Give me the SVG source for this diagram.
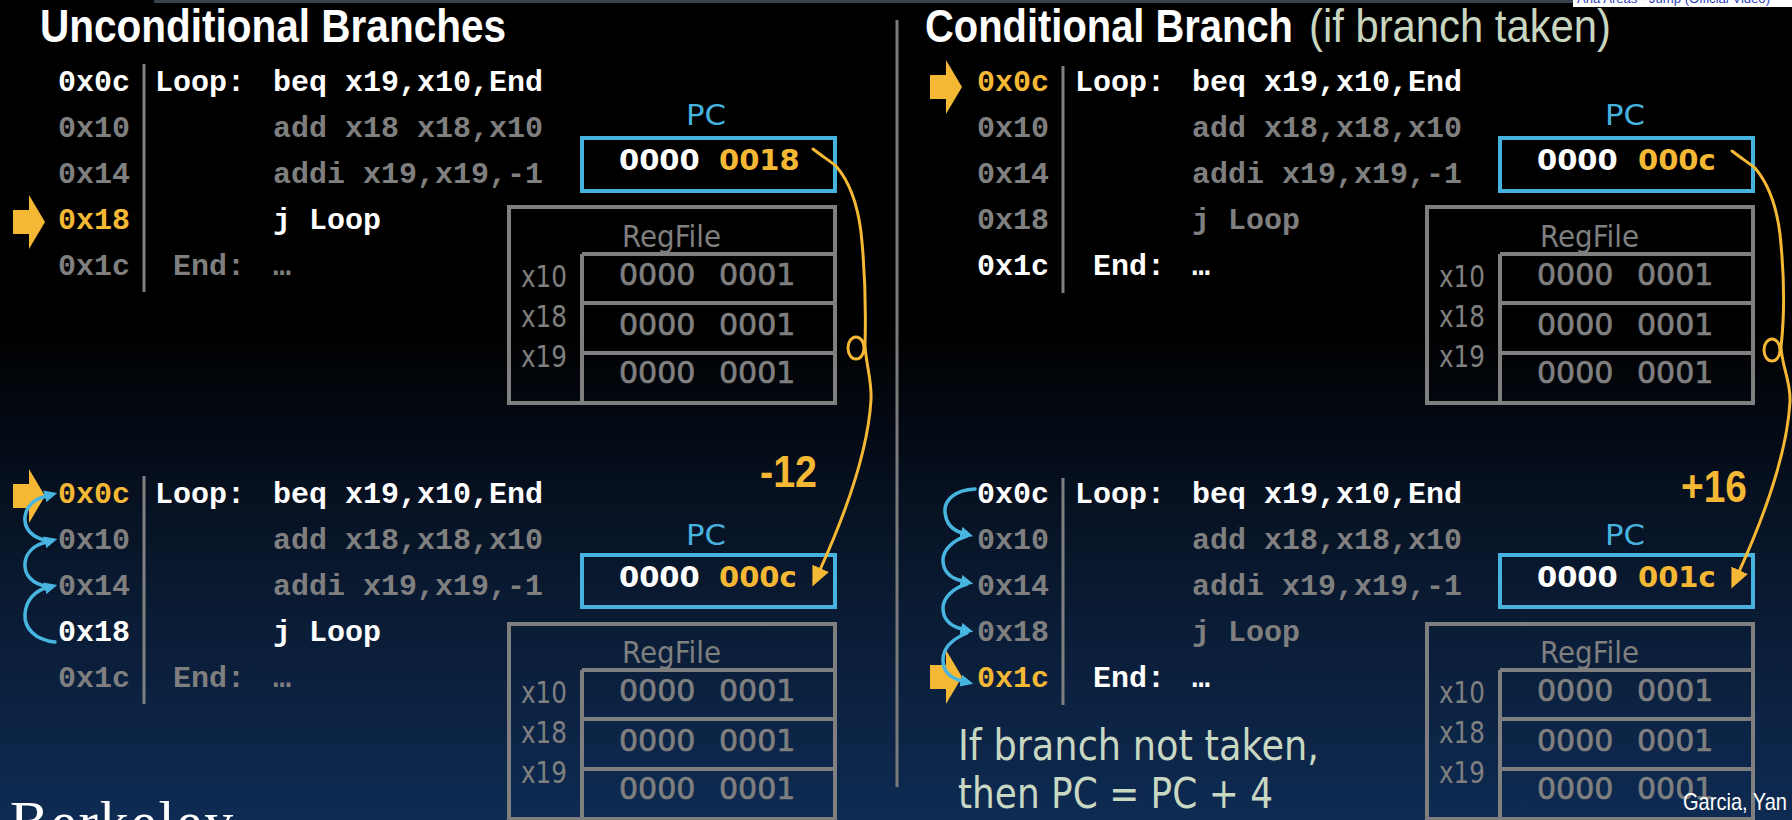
<svg xmlns="http://www.w3.org/2000/svg" width="1792" height="820" viewBox="0 0 1792 820">
<defs>
<linearGradient id="bg" x1="0" y1="0" x2="0" y2="820" gradientUnits="userSpaceOnUse">
<stop offset="0" stop-color="#000000"/>
<stop offset="0.4" stop-color="#000000"/>
<stop offset="0.56" stop-color="#050d1a"/>
<stop offset="0.7" stop-color="#09182e"/>
<stop offset="1" stop-color="#0e2b53"/>
</linearGradient>
<marker id="ah-y" viewBox="0 0 10 10" refX="2" refY="5" markerWidth="20" markerHeight="18" markerUnits="userSpaceOnUse" orient="auto" preserveAspectRatio="none"><path d="M0,0 L10,5 L0,10 z" fill="#f5b835"/></marker>
<marker id="ah-b" viewBox="0 0 10 10" refX="1" refY="5" markerWidth="13" markerHeight="12" markerUnits="userSpaceOnUse" orient="auto" preserveAspectRatio="none"><path d="M0,0 L10,5 L0,10 z" fill="#48b5e0"/></marker>
<polygon id="blk" points="-32,-12 -16,-12 -16,-27 0,0 -16,27 -16,12 -32,12"/>
<style>
.code{font-family:'Liberation Mono','DejaVu Sans Mono',monospace;font-size:30px;font-weight:bold}
.w{fill:#ffffff}.g{fill:#7f7f7f}.o{fill:#f5b835}
.sans{font-family:'DejaVu Sans','Noto Sans',sans-serif}
.nar{font-family:'Liberation Sans Narrow','Liberation Sans',Arial,sans-serif}
.bar{stroke:#808080;stroke-width:3}
.pcbox{fill:none;stroke:#45b3de;stroke-width:4}
.rf{fill:none;stroke:#7f7f7f;stroke-width:4}
.pcl{fill:#45b3de;font-size:28px}
.pcv{font-size:29px;font-weight:bold}
.val{font-size:30px;stroke:#7f7f7f;stroke-width:0.7}
.lbl{font-size:31px}
.yc{fill:none;stroke:#f5b835;stroke-width:3;stroke-linecap:round;stroke-linejoin:round}
.bc{fill:none;stroke:#48b5e0;stroke-width:3.5;stroke-linecap:round}
.blk{fill:#f5b835}
.note{fill:#c8d8c2;font-size:42px}
</style>
</defs>

<g id="background">
<rect x="0" y="0" width="1792" height="820" fill="url(#bg)"/>
<rect x="154" y="0" width="1419" height="3" fill="#3a4250"/>
<rect x="1573" y="0" width="219" height="7" fill="#ffffff"/>
<text x="1577" y="3" font-family="'Liberation Sans',Arial,sans-serif" font-size="12" fill="#2a3fbf" textLength="193" lengthAdjust="spacingAndGlyphs">Ana Areas - Jump (Official Video)</text>
<line x1="897" y1="20" x2="897" y2="787" stroke="#7a7a7a" stroke-width="3"/>
</g>

<g id="titles">
<text class="nar w" x="40" y="42" font-size="46" font-weight="bold" textLength="466" lengthAdjust="spacingAndGlyphs">Unconditional Branches</text>
<text class="nar w" x="925" y="42" font-size="46" font-weight="bold" textLength="368" lengthAdjust="spacingAndGlyphs">Conditional Branch</text>
<text class="nar" x="1309" y="42" font-size="46" fill="#c8d6c0" textLength="302" lengthAdjust="spacingAndGlyphs">(if branch taken)</text>
</g>

<!-- LEFT TOP CODE -->
<g id="code-left-top">
<line class="bar" x1="144" y1="64" x2="144" y2="292"/>
<use href="#blk" class="blk" x="45" y="222"/>
<text class="code w" x="58" y="91">0x0c</text>
<text class="code g" x="58" y="137">0x10</text>
<text class="code g" x="58" y="183">0x14</text>
<text class="code o" x="58" y="229">0x18</text>
<text class="code g" x="58" y="275">0x1c</text>
<text class="code w" x="155" y="91">Loop:</text>
<text class="code g" x="173" y="275">End:</text>
<text class="code w" x="273" y="91">beq x19,x10,End</text>
<text class="code g" x="273" y="137">add x18 x18,x10</text>
<text class="code g" x="273" y="183">addi x19,x19,-1</text>
<text class="code w" x="273" y="229">j Loop</text>
<text class="code g" x="273" y="275">…</text>
</g>

<!-- LEFT BOTTOM CODE -->
<g id="code-left-bottom">
<line class="bar" x1="144" y1="476" x2="144" y2="704"/>
<use href="#blk" class="blk" x="45" y="496"/>
<text class="code o" x="58" y="503">0x0c</text>
<text class="code g" x="58" y="549">0x10</text>
<text class="code g" x="58" y="595">0x14</text>
<text class="code w" x="58" y="641">0x18</text>
<text class="code g" x="58" y="687">0x1c</text>
<text class="code w" x="155" y="503">Loop:</text>
<text class="code g" x="173" y="687">End:</text>
<text class="code w" x="273" y="503">beq x19,x10,End</text>
<text class="code g" x="273" y="549">add x18,x18,x10</text>
<text class="code g" x="273" y="595">addi x19,x19,-1</text>
<text class="code w" x="273" y="641">j Loop</text>
<text class="code g" x="273" y="687">…</text>
</g>

<!-- RIGHT TOP CODE -->
<g id="code-right-top">
<line class="bar" x1="1063" y1="66" x2="1063" y2="293"/>
<use href="#blk" class="blk" x="962" y="87"/>
<text class="code o" x="977" y="91">0x0c</text>
<text class="code g" x="977" y="137">0x10</text>
<text class="code g" x="977" y="183">0x14</text>
<text class="code g" x="977" y="229">0x18</text>
<text class="code w" x="977" y="275">0x1c</text>
<text class="code w" x="1075" y="91">Loop:</text>
<text class="code w" x="1093" y="275">End:</text>
<text class="code w" x="1192" y="91">beq x19,x10,End</text>
<text class="code g" x="1192" y="137">add x18,x18,x10</text>
<text class="code g" x="1192" y="183">addi x19,x19,-1</text>
<text class="code g" x="1192" y="229">j Loop</text>
<text class="code w" x="1192" y="275">…</text>
</g>

<!-- RIGHT BOTTOM CODE -->
<g id="code-right-bottom">
<line class="bar" x1="1063" y1="478" x2="1063" y2="705"/>
<use href="#blk" class="blk" x="962" y="677"/>
<text class="code w" x="977" y="503">0x0c</text>
<text class="code g" x="977" y="549">0x10</text>
<text class="code g" x="977" y="595">0x14</text>
<text class="code g" x="977" y="641">0x18</text>
<text class="code o" x="977" y="687">0x1c</text>
<text class="code w" x="1075" y="503">Loop:</text>
<text class="code w" x="1093" y="687">End:</text>
<text class="code w" x="1192" y="503">beq x19,x10,End</text>
<text class="code g" x="1192" y="549">add x18,x18,x10</text>
<text class="code g" x="1192" y="595">addi x19,x19,-1</text>
<text class="code g" x="1192" y="641">j Loop</text>
<text class="code w" x="1192" y="687">…</text>
</g>

<!-- PC boxes -->
<g id="pc-left-top">
<text class="sans pcl" x="686" y="125" textLength="40" lengthAdjust="spacingAndGlyphs">PC</text>
<rect class="pcbox" x="582" y="138" width="253" height="53"/>
<text class="sans pcv" y="170"><tspan class="w" x="619">0000</tspan> <tspan class="o" x="719">0018</tspan></text>
</g>
<g id="pc-left-bottom">
<text class="sans pcl" x="686" y="545" textLength="40" lengthAdjust="spacingAndGlyphs">PC</text>
<rect class="pcbox" x="582" y="555" width="253" height="52"/>
<text class="sans pcv" y="587"><tspan class="w" x="619">0000</tspan> <tspan class="o" x="719">000c</tspan></text>
</g>
<g id="pc-right-top">
<text class="sans pcl" x="1605" y="125" textLength="40" lengthAdjust="spacingAndGlyphs">PC</text>
<rect class="pcbox" x="1500" y="138" width="253" height="53"/>
<text class="sans pcv" y="170"><tspan class="w" x="1537">0000</tspan> <tspan class="o" x="1638">000c</tspan></text>
</g>
<g id="pc-right-bottom">
<text class="sans pcl" x="1605" y="545" textLength="40" lengthAdjust="spacingAndGlyphs">PC</text>
<rect class="pcbox" x="1500" y="555" width="253" height="52"/>
<text class="sans pcv" y="587"><tspan class="w" x="1537">0000</tspan> <tspan class="o" x="1638">001c</tspan></text>
</g>

<!-- RegFiles -->
<g id="regfile-left-top">
<rect class="rf" x="509" y="207" width="326" height="196"/>
<line class="rf" x1="582" y1="254" x2="835" y2="254"/>
<line class="rf" x1="582" y1="254" x2="582" y2="403"/>
<line class="rf" x1="582" y1="303" x2="835" y2="303"/>
<line class="rf" x1="582" y1="353" x2="835" y2="353"/>
<text class="sans g" x="622" y="247" font-size="30" textLength="99" lengthAdjust="spacingAndGlyphs">RegFile</text>
<text class="sans g lbl" x="521" y="287" textLength="46" lengthAdjust="spacingAndGlyphs">x10</text>
<text class="sans g lbl" x="521" y="327" textLength="46" lengthAdjust="spacingAndGlyphs">x18</text>
<text class="sans g lbl" x="521" y="367" textLength="46" lengthAdjust="spacingAndGlyphs">x19</text>
<text class="sans g val" y="285"><tspan x="619">0000</tspan> <tspan x="719">0001</tspan></text>
<text class="sans g val" y="335"><tspan x="619">0000</tspan> <tspan x="719">0001</tspan></text>
<text class="sans g val" y="383"><tspan x="619">0000</tspan> <tspan x="719">0001</tspan></text>
</g>
<g id="regfile-left-bottom">
<rect class="rf" x="509" y="624" width="326" height="195"/>
<line class="rf" x1="582" y1="670" x2="835" y2="670"/>
<line class="rf" x1="582" y1="670" x2="582" y2="819"/>
<line class="rf" x1="582" y1="719" x2="835" y2="719"/>
<line class="rf" x1="582" y1="769" x2="835" y2="769"/>
<text class="sans g" x="622" y="663" font-size="30" textLength="99" lengthAdjust="spacingAndGlyphs">RegFile</text>
<text class="sans g lbl" x="521" y="703" textLength="46" lengthAdjust="spacingAndGlyphs">x10</text>
<text class="sans g lbl" x="521" y="743" textLength="46" lengthAdjust="spacingAndGlyphs">x18</text>
<text class="sans g lbl" x="521" y="783" textLength="46" lengthAdjust="spacingAndGlyphs">x19</text>
<text class="sans g val" y="701"><tspan x="619">0000</tspan> <tspan x="719">0001</tspan></text>
<text class="sans g val" y="751"><tspan x="619">0000</tspan> <tspan x="719">0001</tspan></text>
<text class="sans g val" y="799"><tspan x="619">0000</tspan> <tspan x="719">0001</tspan></text>
</g>
<g id="regfile-right-top">
<rect class="rf" x="1427" y="207" width="326" height="196"/>
<line class="rf" x1="1500" y1="254" x2="1753" y2="254"/>
<line class="rf" x1="1500" y1="254" x2="1500" y2="403"/>
<line class="rf" x1="1500" y1="303" x2="1753" y2="303"/>
<line class="rf" x1="1500" y1="353" x2="1753" y2="353"/>
<text class="sans g" x="1540" y="247" font-size="30" textLength="99" lengthAdjust="spacingAndGlyphs">RegFile</text>
<text class="sans g lbl" x="1439" y="287" textLength="46" lengthAdjust="spacingAndGlyphs">x10</text>
<text class="sans g lbl" x="1439" y="327" textLength="46" lengthAdjust="spacingAndGlyphs">x18</text>
<text class="sans g lbl" x="1439" y="367" textLength="46" lengthAdjust="spacingAndGlyphs">x19</text>
<text class="sans g val" y="285"><tspan x="1537">0000</tspan> <tspan x="1637">0001</tspan></text>
<text class="sans g val" y="335"><tspan x="1537">0000</tspan> <tspan x="1637">0001</tspan></text>
<text class="sans g val" y="383"><tspan x="1537">0000</tspan> <tspan x="1637">0001</tspan></text>
</g>
<g id="regfile-right-bottom">
<rect class="rf" x="1427" y="624" width="326" height="195"/>
<line class="rf" x1="1500" y1="670" x2="1753" y2="670"/>
<line class="rf" x1="1500" y1="670" x2="1500" y2="819"/>
<line class="rf" x1="1500" y1="719" x2="1753" y2="719"/>
<line class="rf" x1="1500" y1="769" x2="1753" y2="769"/>
<text class="sans g" x="1540" y="663" font-size="30" textLength="99" lengthAdjust="spacingAndGlyphs">RegFile</text>
<text class="sans g lbl" x="1439" y="703" textLength="46" lengthAdjust="spacingAndGlyphs">x10</text>
<text class="sans g lbl" x="1439" y="743" textLength="46" lengthAdjust="spacingAndGlyphs">x18</text>
<text class="sans g lbl" x="1439" y="783" textLength="46" lengthAdjust="spacingAndGlyphs">x19</text>
<text class="sans g val" y="701"><tspan x="1537">0000</tspan> <tspan x="1637">0001</tspan></text>
<text class="sans g val" y="751"><tspan x="1537">0000</tspan> <tspan x="1637">0001</tspan></text>
<text class="sans g val" y="799"><tspan x="1537">0000</tspan> <tspan x="1637">0001</tspan></text>
</g>

<!-- Connectors -->
<g id="connectors">
<path class="yc" marker-end="url(#ah-y)" d="M 864,348 a 8,11 0 1 0 -16,0 a 8,11 0 1 0 16,0 M 813,149 C 822,156 830,161 836,166 C 848,180 857,200 861,232 C 865,270 866,310 865,345 C 866,365 872,380 871,400 C 868,450 845,515 819,572"/>
<path class="yc" marker-end="url(#ah-y)" d="M 1780,350 a 8,11 0 1 0 -16,0 a 8,11 0 1 0 16,0 M 1732,151 C 1741,158 1749,163 1755,168 C 1767,182 1776,202 1780,234 C 1784,272 1785,312 1781,347 C 1782,367 1791,382 1790,402 C 1787,452 1764,517 1738,574"/>
<path class="bc" marker-end="url(#ah-b)" d="M 49,541 C 31,538 24,528 25,517 C 26,506 35,499 46,496"/>
<path class="bc" marker-end="url(#ah-b)" d="M 49,587 C 31,584 24,574 25,563 C 26,552 35,545 46,542"/>
<path class="bc" marker-end="url(#ah-b)" d="M 55,642 C 35,640 24,628 25,614 C 26,600 35,591 46,588"/>
<path class="bc" marker-end="url(#ah-b)" d="M 975,489 C 955,490 944,500 945,512 C 946,524 952,530 962,533"/>
<path class="bc" marker-end="url(#ah-b)" d="M 967,536 C 953,540 943,550 943,560 C 943,572 950,578 962,581"/>
<path class="bc" marker-end="url(#ah-b)" d="M 967,584 C 953,588 943,598 943,608 C 943,620 950,626 962,629"/>
<path class="bc" marker-end="url(#ah-b)" d="M 967,633 C 950,640 943,650 943,660 C 943,672 950,678 962,681"/>
</g>

<g id="labels">
<text class="nar o" x="760" y="487" font-size="44" font-weight="bold" textLength="57" lengthAdjust="spacingAndGlyphs">-12</text>
<text class="nar o" x="1681" y="502" font-size="44" font-weight="bold" textLength="66" lengthAdjust="spacingAndGlyphs">+16</text>
<text class="sans note" x="958" y="760" textLength="361" lengthAdjust="spacingAndGlyphs">If branch not taken,</text>
<text class="sans note" x="958" y="808" textLength="315" lengthAdjust="spacingAndGlyphs">then PC = PC + 4</text>
<text class="nar w" x="1683" y="810" font-size="24" textLength="104" lengthAdjust="spacingAndGlyphs">Garcia, Yan</text>
<text x="10" y="841" font-family="'Liberation Serif','Times New Roman',serif" font-size="58" fill="#ffffff" letter-spacing="2">Berkeley</text>
</g>
</svg>
